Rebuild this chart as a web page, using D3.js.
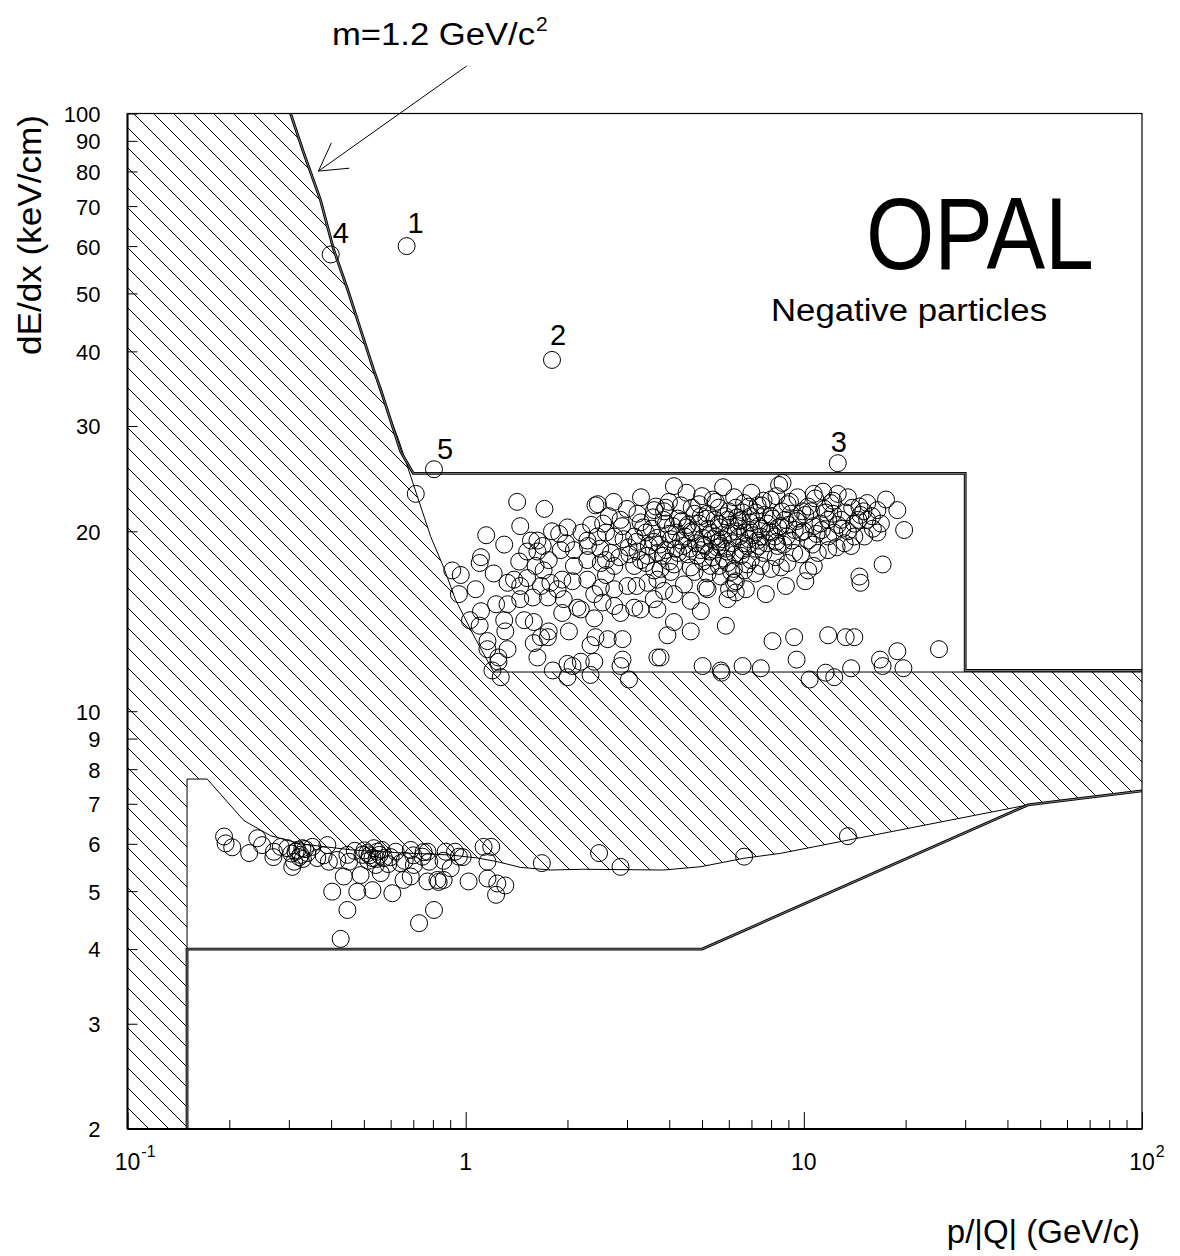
<!DOCTYPE html>
<html><head><meta charset="utf-8">
<script src="https://cdn.jsdelivr.net/npm/d3@7"></script>
<style>
body{margin:0;background:#fff}
svg text{font-family:"Liberation Sans",Arial,Helvetica,sans-serif;fill:#000}
</style></head>
<body><svg id="chart" width="1180" height="1256"></svg>
<script>
// ---------------- data (p/|Q| in GeV/c, dE/dx in keV/cm) ----------------
const yTickValues = [2,3,4,5,6,7,8,9,10,20,30,40,50,60,70,80,90,100];
const xMinorTicks = [0.2,0.3,0.4,0.5,0.6,0.7,0.8,0.9,2,3,4,5,6,7,8,9,20,30,40,50,60,70,80,90];
const xMajorTicks = [0.1,1,10,100];
const xTickBase = ["10","1","10","10"];
const xTickSup  = ["-1","","","2"];

const massCurve = [[0.3035,100],[0.332,85.9],[0.372,71.7],[0.407,59.2],[0.448,50.7],[0.489,43.5],[0.534,37.3],[0.561,34.5],[0.642,27.2],[0.70,25.0]];
const upperBox = [[0.70,25.0],[30,25.0],[30,11.7],[100,11.7]];
const lowerBox = [[0.15,2],[0.15,4.0],[5.0,4.0],[46,6.97],[100,7.355]];
const hatchUpperEdge = [[0.3035,100],[0.332,85.9],[0.372,71.7],[0.407,59.2],[0.448,50.7],[0.489,43.5],[0.534,37.3],[0.556,34.6],[0.634,28.4],[0.788,19.6],[0.861,17.4],[0.934,15.35],[1.07,13.2],[1.21,11.63],[100,11.63]];
const hatchLowerEdge = [[100,7.355],[46,6.97],[8.55,5.785],[6.65,5.675],[4.96,5.494],[3.85,5.424],[2.23,5.44],[1.78,5.424],[1.45,5.48],[1.244,5.60],[1.085,5.68],[0.903,5.747],[0.642,5.796],[0.457,5.863],[0.325,6.00],[0.265,6.19],[0.221,6.56],[0.172,7.70],[0.15,7.70],[0.15,4.0]];

const candId   = ["1","2","3","4","5"];
const candP    = [0.669,1.80,12.6,0.399,0.806];
const candDedx = [60.0,38.7,26.0,58.1,25.4];

const arrowFrom = [1.007,120.1];
const arrowTo   = [0.367,80.1];

const tracksHigh = [
[0.712,23.1],[1.42,22.4],[1.71,21.8],[2.42,22.1],[2.74,22.4],[4.13,23.8],[5.77,23.7],[8.45,23.9],
[1.45,20.4],[1.15,19.7],[1.30,19.0],[1.89,19.8],[1.63,19.3],[1.11,18.1],[1.10,17.7],[1.21,17.0],
[0.913,17.2],[0.967,16.9],[0.955,15.7],[1.07,16.0],[1.03,14.2],[1.11,14.7],[1.10,13.9],[1.23,15.1],
[1.33,15.1],[1.30,14.2],[1.31,13.6],[1.16,13.1],[1.16,12.7],[1.25,12.3],[1.33,12.7],[1.20,11.7],
[1.27,11.4],[1.25,12.1],[1.45,16.2],[1.39,16.6],[1.33,16.4],[1.52,16.7],[1.44,17.8],[1.52,18.5],
[1.63,18.5],[1.76,17.9],[1.61,17.5],[1.49,14.2],[1.59,14.1],[1.59,13.0],[1.67,13.3],[1.75,13.3],
[1.76,13.6],[1.63,12.3],[1.81,11.7],[1.75,15.5],[1.87,16.0],[1.93,14.6],[2.02,13.6],[2.00,12.0],
[2.00,11.4],[2.07,11.9],[2.19,12.1],[2.34,11.5],[2.40,12.1],[2.42,13.3],[2.34,12.9],[2.63,13.2],
[2.91,13.2],[2.91,12.2],[2.87,11.9],[3.04,11.3],[3.69,12.3],[3.77,12.3],[2.14,14.9],[2.19,14.8],
[2.40,14.3],[2.54,15.2],[2.75,15.0],[2.87,14.6],[3.15,14.9],[3.29,14.8],[3.69,14.8],[3.95,13.4],
[4.13,14.1],[4.63,13.6],[4.63,15.3],[4.96,14.7],[5.88,13.9],[5.95,15.4],[6.29,15.8],[7.72,15.7],
[8.08,13.1],[5.68,11.7],[5.02,11.9],[6.59,11.9],[7.46,11.8],[4.13,15.7],[3.86,15.9],[3.45,16.4],
[3.01,16.2],[2.75,16.0],[2.51,16.1],[2.29,16.6],[2.07,16.5],[1.93,16.6],[1.78,16.4],[1.67,16.2],
[1.58,15.5],[1.45,15.4],[2.09,17.5],[2.29,17.9],[2.51,17.7],[2.75,17.5],[2.45,19.6],[2.75,19.6],
[3.15,19.6],[2.87,20.9],[3.22,21.4],[3.61,21.7],[3.86,21.6],[3.22,18.5],[3.69,18.4],[3.15,17.5],
[3.61,17.2],[4.04,17.1],[1.91,18.6],[2.09,18.6],[1.98,19.1],[2.29,19.3],[1.69,18.9],[1.56,19.3],
[8.65,24.1],[18.9,21.7],[19.8,20.1],[17.1,17.6],[16.5,21.7],[16.5,19.9],[15.4,22.3],[14.7,21.3],
[14.6,16.8],[14.7,16.4],[10.1,16.5],[6.29,16.5],[9.36,13.3],[11.8,13.4],[13.3,13.3],[14.1,13.3],
[18.9,12.6],[25.1,12.7],[16.8,12.2],[17.1,11.9],[19.7,11.8],[13.8,11.8],[9.52,12.2],[5.71,11.6],
[10.4,11.3],[11.6,11.6],[12.3,11.4],[10.7,23.1],[11.4,23.3],[12.6,23.1],[13.5,22.8],[10.3,22.0],
[9.58,22.8],[7.99,22.6],[7.30,22.1],[6.66,22.3],[6.22,22.8],[5.49,22.4],[5.19,21.4],[15.4,20.9],
[14.1,20.6],[12.9,20.9],[11.8,20.9],[12.3,19.9],[14.1,19.6],[15.1,19.6],[13.2,19.1],[11.8,18.6],
[10.7,17.5],[10.3,17.2],[8.95,17.7],[7.99,17.3],[7.46,17.5],[6.66,17.2],[5.95,17.7],[5.19,16.0],
[6.01,16.0],[6.22,16.4],[5.19,17.0],[5.68,16.8],[8.36,18.9],[9.36,18.4],[9.80,19.9],[8.55,20.4],
[7.46,19.6],[6.66,19.1],[5.68,18.9],[5.31,19.9],[5.95,20.9],[6.97,21.2],[7.99,21.2],[9.15,21.4],
[10.7,20.4],[11.8,19.6],[11.0,18.4],
[2.46,22.2],[3.65,22.0],[3.99,22.4],[4.33,22.1],[4.66,21.9],[5.38,22.6],[6.29,21.9],[6.88,22.0],
[7.60,22.5],[8.95,22.2],[12.0,22.3],[14.6,22.0],[17.5,22.6],
[3.29,20.7],[3.58,21.1],[3.91,20.6],[4.24,21.0],[4.54,20.5],[4.96,21.2],[5.61,20.6],[6.42,20.8],
[7.36,20.4],[9.53,20.8],[10.1,21.3],[13.3,21.5],[16.9,20.6],
[2.60,19.9],[2.93,19.4],[3.41,19.9],[3.69,19.5],[3.99,19.8],[4.33,19.3],[4.70,19.9],[5.03,19.5],
[5.49,19.6],[6.29,20.0],[6.88,19.4],[7.99,19.9],[8.90,19.6],[10.3,19.3],[11.3,20.1],[13.0,20.2],
[2.69,18.4],[3.03,18.8],[3.48,18.9],[3.83,18.2],[4.18,18.7],[4.54,18.3],[4.96,18.6],[5.38,18.1],
[5.92,18.5],[6.51,18.2],[7.21,18.7],[8.26,18.1],[9.80,18.3],[12.5,18.8],[13.8,18.9],
[3.41,17.7],[3.77,17.3],[4.13,17.6],[4.63,17.4],[5.03,17.8],[5.61,17.5],[6.21,17.3],[6.97,17.9],[8.55,17.4],
[3.69,16.6],[4.42,16.3],[5.13,16.1],[6.74,16.0],[8.85,16.2],
[4.20,19.9],[4.50,20.3],[4.80,19.1],[5.20,20.2],[5.60,19.2],[6.00,19.8],[6.40,20.4],[6.90,20.1],
[7.30,19.3],[7.80,20.6],[8.30,19.2],[8.80,20.9],[9.40,20.1],[3.60,19.2],[3.90,18.6],[4.40,18.9],
[5.10,18.9],[5.80,18.0],[6.60,18.6],[7.60,18.4],[10.6,19.0],[12.2,21.4],[13.9,21.9],[15.9,21.2],
[16.0,20.2],[11.5,21.8],[9.90,21.6],[8.30,22.9],[7.00,23.2],[6.00,21.6],[5.00,22.9],[4.50,23.2],
[3.30,22.8],[3.00,21.8],[2.65,21.2],[2.35,20.5],[2.20,19.9],[2.50,18.7],[2.85,18.1],[3.30,17.9],
[2.00,20.3],[1.80,20.0],[1.70,17.2],[2.60,16.9],[3.20,16.2],[3.60,15.4],[2.40,15.7],[1.95,15.4],
[3.55,20.2],[3.75,19.0],[3.85,20.9],[4.05,19.4],[4.10,20.4],[4.25,18.4],[4.35,20.8],[4.45,19.6],
[4.60,18.7],[4.65,20.0],[4.75,21.4],[4.85,18.2],[4.90,20.6],[5.05,19.0],[5.15,21.0],[5.25,18.5],
[5.35,19.4],[5.45,20.9],[5.55,18.8],[5.65,20.3],[5.75,19.4],[5.85,21.2],[5.90,18.7],[6.05,20.5],
[6.15,19.1],[6.25,18.3],[6.35,21.1],[6.45,19.6],[6.55,20.9],[6.70,19.9],[6.80,18.9],[6.95,20.7],
[7.10,19.7],[7.20,21.5],[7.35,18.9],[7.50,20.2],[7.65,21.3],[7.75,19.1],[7.90,20.0],[8.10,21.0],
[8.20,19.6],[8.40,20.3],[8.60,21.6],[8.70,19.0],[9.00,20.5],[9.20,19.3],[9.60,21.0],[10.0,20.0],
[10.5,21.6],[10.9,19.8],[11.2,20.6],[11.6,21.5],[12.6,20.5],[13.5,20.0],[14.5,20.9],[15.0,21.6],
[3.20,19.2],[3.35,20.3],[2.90,20.4],[2.55,20.6],[3.05,18.3],[3.45,18.2],[4.00,17.8],[4.75,17.1],
[5.30,17.5],[6.10,17.1],[6.80,17.6],[7.20,17.0],[2.30,18.9],[2.60,17.9],[3.90,21.9],[4.90,22.2],
[5.60,21.9],[6.60,21.5],[7.50,22.1],[9.10,22.4],[10.8,22.7],[12.2,22.5]
];
const tracksLow = [
[0.193,6.17],[0.195,6.01],[0.204,5.92],[0.229,5.79],[0.242,6.13],[0.250,5.97],[0.271,5.82],[0.284,5.93],
[0.297,5.90],[0.314,5.82],[0.325,5.75],[0.311,5.60],[0.329,5.90],[0.340,5.79],[0.307,5.49],[0.352,5.93],
[0.364,5.68],[0.390,5.97],[0.394,5.60],[0.417,5.64],[0.447,5.75],[0.452,5.60],[0.436,5.29],[0.403,4.99],
[0.447,4.65],[0.427,4.16],[0.478,4.99],[0.530,5.02],[0.495,5.75],[0.512,5.79],[0.530,5.68],[0.548,5.82],
[0.542,5.53],[0.573,5.68],[0.489,5.32],[0.561,5.36],[0.607,4.96],[0.621,5.82],[0.642,5.57],[0.688,5.86],
[0.688,5.29],[0.703,5.53],[0.745,5.71],[0.771,5.82],[0.771,5.19],[0.825,5.22],[0.806,4.65],[0.728,4.42],
[0.873,5.82],[0.903,5.46],[0.955,5.71],[1.02,5.19],[1.13,5.93],[1.19,5.93],[1.16,5.60],[1.16,5.25],
[1.24,5.15],[1.23,4.93],[1.31,5.11],[0.655,5.22],[0.751,5.81],[0.861,5.22],[0.832,5.18],[0.980,5.70],
[1.68,5.57],[2.48,5.79],[2.87,5.49],[6.66,5.71],[13.5,6.18],
[0.318,5.86],[0.322,5.70],[0.335,5.88],[0.305,5.78],[0.330,5.66],[0.502,5.85],[0.520,5.74],[0.535,5.90],
[0.556,5.75],[0.565,5.86],[0.515,5.62],[0.545,5.66],[0.470,5.84],[0.600,5.70],[0.660,5.62],[0.590,5.55],
[0.780,5.60],[0.860,5.62],[0.930,5.82],[0.700,5.74],[0.380,5.74],[0.270,5.70]
];

// ---------------- drawing ----------------
const svg = d3.select("#chart");
const L = 127.5, R = 1142, T = 113.5, B = 1129;
const x = d3.scaleLog().domain([0.1,100]).range([L,R]);
const y = d3.scaleLog().domain([2,100]).range([B,T]);
const line = d3.line().x(d=>x(d[0])).y(d=>y(d[1]));

const defs = svg.append("defs");
const pat = defs.append("pattern").attr("id","hatch")
  .attr("patternUnits","userSpaceOnUse").attr("width",20).attr("height",20);
pat.append("path").attr("d","M-5,-5L25,25M-5,15L5,25M15,-5L25,5")
  .attr("stroke","#000").attr("stroke-width",1).attr("fill","none");
defs.append("clipPath").attr("id","plotclip").append("rect")
  .attr("x",L).attr("y",T).attr("width",R-L).attr("height",B-T);

const plot = svg.append("g").attr("clip-path","url(#plotclip)");

const hatchPoly = [[0.1,100]].concat(hatchUpperEdge, hatchLowerEdge, [[0.15,2],[0.1,2]]);
plot.append("path").attr("d", line(hatchPoly)+"Z").attr("fill","url(#hatch)").attr("stroke","none");
plot.append("path").attr("d", line(hatchUpperEdge)).attr("fill","none").attr("stroke","#000").attr("stroke-width",1);
plot.append("path").attr("d", line(hatchLowerEdge)).attr("fill","none").attr("stroke","#000").attr("stroke-width",1);

function doubleLine(pts){
  plot.append("path").attr("d", line(pts)).attr("fill","none").attr("stroke","#000").attr("stroke-width",2.8);
  plot.append("path").attr("d", line(pts)).attr("fill","none").attr("stroke","#999").attr("stroke-width",0.8);
}
doubleLine(massCurve.concat(upperBox.slice(1)));
doubleLine(lowerBox);

const circ = g => g.attr("r",8.5).attr("fill","none").attr("stroke","#000").attr("stroke-width",1);
plot.append("g").selectAll("circle").data(tracksHigh).join("circle")
  .attr("cx",d=>x(d[0])).attr("cy",d=>y(d[1])).call(circ);
plot.append("g").selectAll("circle").data(tracksLow).join("circle")
  .attr("cx",d=>x(d[0])).attr("cy",d=>y(d[1])).call(circ);
plot.append("g").selectAll("circle").data(candP).join("circle")
  .attr("cx",(d,i)=>x(candP[i])).attr("cy",(d,i)=>y(candDedx[i])).call(circ);

const labOff = {"1":[9,-13],"2":[6,-15],"3":[1,-11],"4":[10,-11.5],"5":[11,-10]};
svg.append("g").selectAll("text").data(candId).join("text")
  .attr("x",(d,i)=>x(candP[i])+labOff[d][0]).attr("y",(d,i)=>y(candDedx[i])+labOff[d][1])
  .attr("text-anchor","middle").attr("font-size",29).text(d=>d);

svg.append("rect").attr("x",L).attr("y",T).attr("width",R-L).attr("height",B-T)
  .attr("fill","none").attr("stroke","#000").attr("stroke-width",1.2);
svg.append("line").attr("x1",L).attr("x2",L).attr("y1",T).attr("y2",B).attr("stroke","#000").attr("stroke-width",2);
svg.append("line").attr("x1",L).attr("x2",R).attr("y1",B).attr("y2",B).attr("stroke","#000").attr("stroke-width",2);

const yAxis = svg.append("g").attr("transform",`translate(${L},0)`)
  .call(d3.axisLeft(y).tickValues(yTickValues).tickSize(-10).tickPadding(27).tickFormat(d3.format("d")));
yAxis.select(".domain").remove();
yAxis.selectAll("line").attr("stroke","#000").attr("stroke-width",1);
yAxis.selectAll("text").attr("font-size",22).attr("font-family",null).attr("dy","0.36em");

const xMinor = svg.append("g").attr("transform",`translate(0,${B})`)
  .call(d3.axisBottom(x).tickValues(xMinorTicks).tickSize(-9).tickFormat(""));
xMinor.select(".domain").remove();
const xMajor = svg.append("g").attr("transform",`translate(0,${B})`)
  .call(d3.axisBottom(x).tickValues(xMajorTicks).tickSize(-17).tickFormat(""));
xMajor.select(".domain").remove();
svg.selectAll(".tick line").attr("stroke","#000");

const xl = svg.append("g");
xMajorTicks.forEach((v,i)=>{
  const t = xl.append("text").attr("y",1170).attr("font-size",23);
  t.append("tspan").text(xTickBase[i]);
  if (xTickSup[i]) t.append("tspan").attr("font-size",16).attr("dy",-13).attr("dx",1).text(xTickSup[i]);
  const baseW = t.select("tspan").node().getComputedTextLength();
  t.attr("x", x(v) - baseW/2);
});

svg.append("text").attr("transform","translate(41,235) rotate(-90)").attr("text-anchor","middle")
  .attr("font-size",34).attr("textLength",240).attr("lengthAdjust","spacingAndGlyphs").text("dE/dx (keV/cm)");
svg.append("text").attr("x",1140).attr("y",1243).attr("text-anchor","end")
  .attr("font-size",33).text("p/|Q| (GeV/c)");

const mt = svg.append("text").attr("x",332).attr("y",45).attr("font-size",31);
mt.append("tspan").attr("textLength",203).attr("lengthAdjust","spacingAndGlyphs").text("m=1.2 GeV/c");
mt.append("tspan").attr("font-size",21).attr("dy",-14).attr("dx",1).text("2");
svg.append("text").attr("x",866).attr("y",269).attr("font-size",102)
  .attr("textLength",228).attr("lengthAdjust","spacingAndGlyphs").text("OPAL");
svg.append("text").attr("x",771).attr("y",321).attr("font-size",31)
  .attr("textLength",276).attr("lengthAdjust","spacingAndGlyphs").text("Negative particles");

const ax0 = x(arrowFrom[0]), ay0 = y(arrowFrom[1]), ax1 = x(arrowTo[0]), ay1 = y(arrowTo[1]);
svg.append("line").attr("x1",ax0).attr("y1",ay0).attr("x2",ax1).attr("y2",ay1).attr("stroke","#000").attr("stroke-width",1);
const ang = Math.atan2(ay0-ay1, ax0-ax1), hl = 31, ha = 30*Math.PI/180;
[-1,1].forEach(s=>{
  svg.append("line").attr("x1",ax1).attr("y1",ay1)
    .attr("x2",ax1+hl*Math.cos(ang+s*ha)).attr("y2",ay1+hl*Math.sin(ang+s*ha))
    .attr("stroke","#000").attr("stroke-width",1);
});
</script></body></html>
